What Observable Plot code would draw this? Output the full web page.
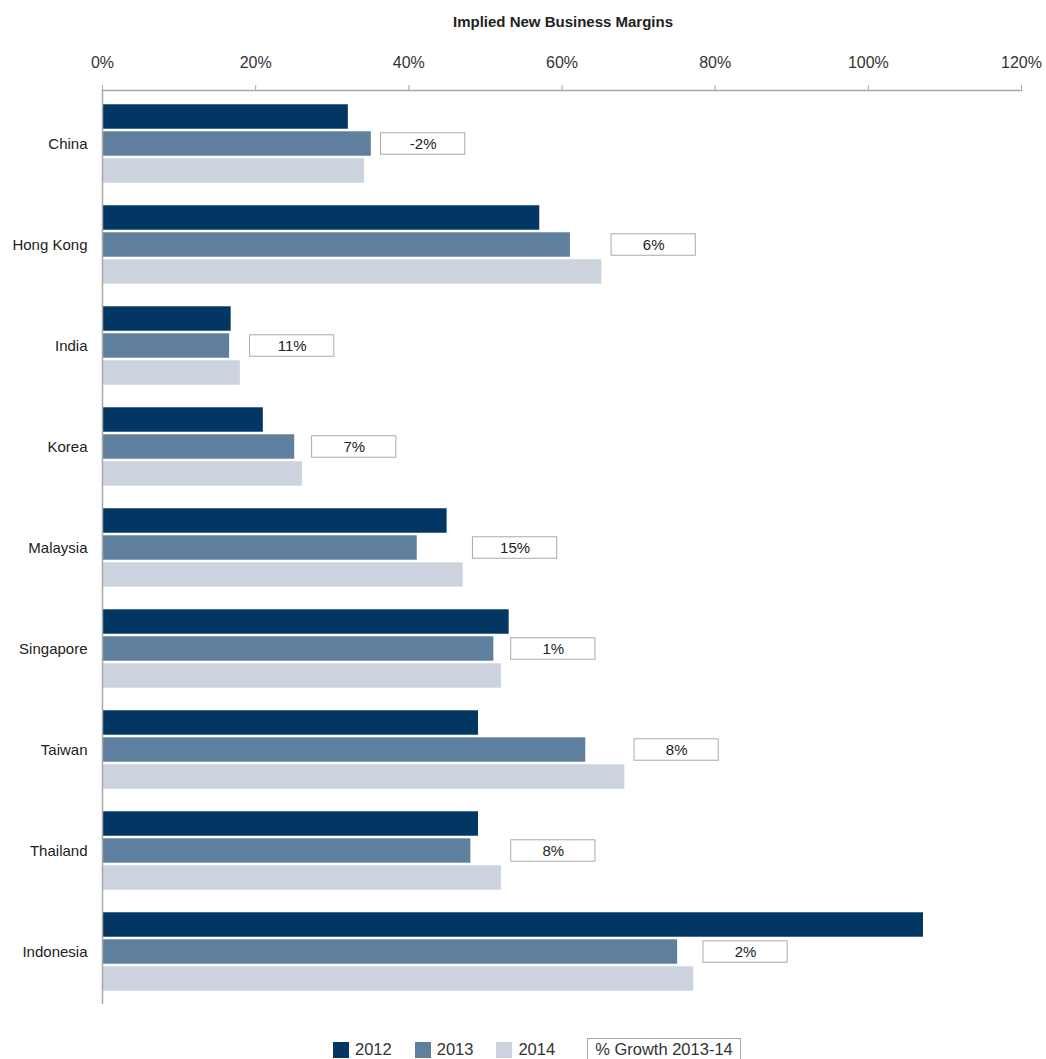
<!DOCTYPE html>
<html>
<head>
<meta charset="utf-8">
<script src="https://cdn.jsdelivr.net/npm/d3@7"></script>
<script src="https://cdn.jsdelivr.net/npm/@observablehq/plot@0.6"></script>
<style>
  body { margin: 0; background: #fff; font-family: "Liberation Sans", Arial, sans-serif; }
  #title { height: 38px; line-height: 44px; text-align: center; font-weight: bold; font-size: 15px; color: #222; padding-left: 80px; box-sizing: border-box; width: 1046px; }
  #legend { display: flex; align-items: center; margin-top: 10px; padding-left: 333px; font-size: 16.5px; color: #333; }
  .sw { width: 16px; height: 16px; display: inline-block; margin-right: 6px; }
  .item { display: flex; align-items: center; margin-right: 23px; }
  .box { border: 1px solid #aaa; padding: 1px 7px; margin-left: 9px; }
</style>
</head>
<body>
<div id="title">Implied New Business Margins</div>
<div id="chart"></div>
<div id="legend"></div>
<script>
const countries = ["China", "Hong Kong", "India", "Korea", "Malaysia", "Singapore", "Taiwan", "Thailand", "Indonesia"];
const years = ["2012", "2013", "2014"];
const v2012 = [32.1, 57.1, 16.8, 21.0, 45.0, 53.1, 49.1, 49.1, 107.2];
const v2013 = [35.1, 61.1, 16.6, 25.1, 41.1, 51.1, 63.1, 48.1, 75.1];
const v2014 = [34.2, 65.2, 18.0, 26.1, 47.1, 52.1, 68.2, 52.1, 77.2];
const growth = ["-2%", "6%", "11%", "7%", "15%", "1%", "8%", "8%", "2%"];
const xTicks = [0, 20, 40, 60, 80, 100, 120];
const colors = ["#023764", "#5e809e", "#ccd3de"];

const series = [v2012, v2013, v2014];
const rows = countries.map((c, i) => ({
  country: c,
  v: series.map(s => s[i]),
  growth: growth[i],
  boxStart: Math.max(v2013[i], v2014[i]) + 1.27
}));

const width = 1046, height = 990, marginTop = 52, marginBottom = 24;
const bandH = (height - marginTop - marginBottom) / countries.length;
const barH = 25, gap = 2, group = barH * 3 + gap * 2;
const top0 = (bandH - group) / 2;
const boxW = 11, boxH = 22;

const barMarks = years.map((yr, k) => Plot.barX(rows, {
  y: "country",
  x: d => d.v[k],
  fill: colors[k],
  insetTop: top0 + k * (barH + gap),
  insetBottom: bandH - (top0 + k * (barH + gap) + barH)
}));

const chart = Plot.plot({
  width, height, marginTop, marginBottom, marginLeft: 102, marginRight: 25,
  style: { fontFamily: "'Liberation Sans', Arial, sans-serif", color: "#222", background: "#fff" },
  x: { domain: [0, 120], axis: null },
  y: { domain: countries, padding: 0, axis: null },
  marks: [
    ...barMarks,
    Plot.rect(rows, {
      y: "country",
      x1: "boxStart",
      x2: d => d.boxStart + boxW,
      fill: "#fff",
      stroke: "#aaa",
      strokeWidth: 1,
      insetTop: (bandH - boxH) / 2,
      insetBottom: (bandH - boxH) / 2
    }),
    Plot.text(rows, {
      y: "country",
      x: d => d.boxStart + boxW / 2,
      text: "growth",
      fontSize: 15,
      fill: "#222"
    }),
    Plot.ruleX([0], { stroke: "#a8a8a8", strokeWidth: 1.5 }),
    Plot.frame({ anchor: "top", stroke: "#a8a8a8", strokeWidth: 1.5 }),
    Plot.axisX({
      anchor: "top", ticks: xTicks, tickFormat: d => d + "%", label: null,
      tickSize: 6, tickPadding: 17, fontSize: 16, stroke: "#a8a8a8", fill: "#333"
    }),
    Plot.axisY({
      tickSize: 0, tickPadding: 15, fontSize: 15, fill: "#222", label: null
    })
  ]
});
document.getElementById("chart").appendChild(chart);

const legend = document.getElementById("legend");
years.forEach((yr, k) => {
  const it = document.createElement("div");
  it.className = "item";
  it.innerHTML = `<span class="sw" style="background:${colors[k]}"></span><span>${yr}</span>`;
  legend.appendChild(it);
});
const bx = document.createElement("div");
bx.className = "box";
bx.textContent = "% Growth 2013-14";
legend.appendChild(bx);
</script>
</body>
</html>
